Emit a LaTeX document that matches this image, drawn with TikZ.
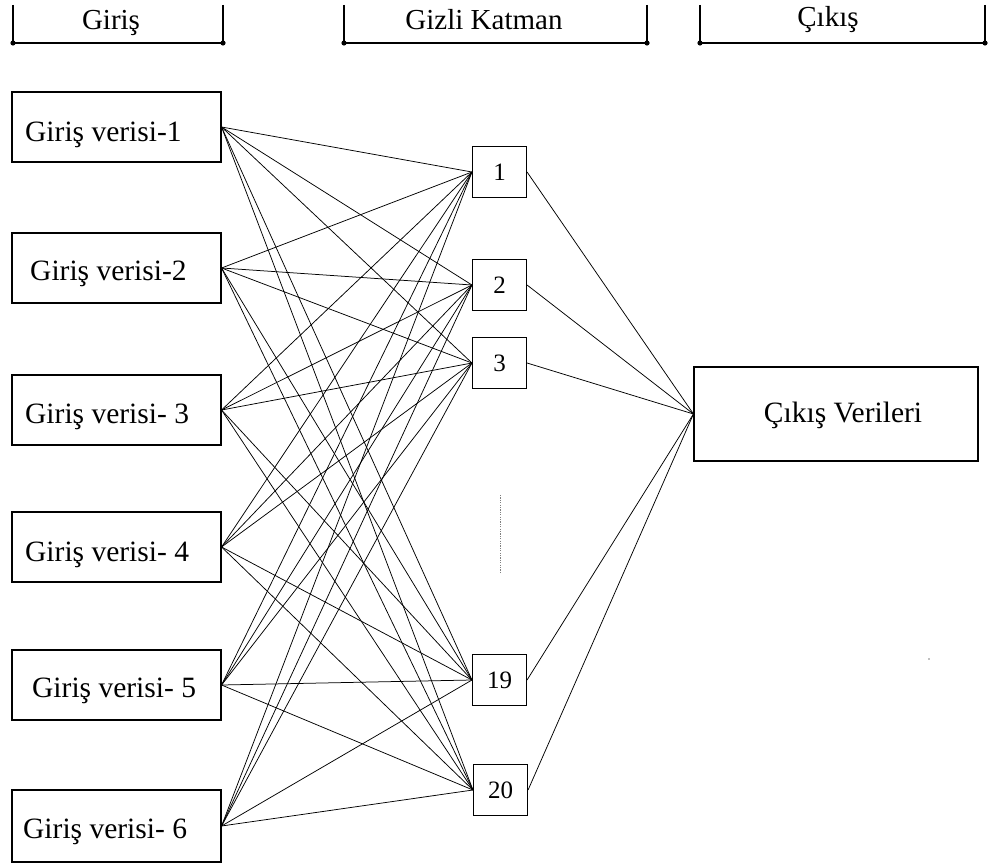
\documentclass[tikz,border=0pt]{standalone}
\usepackage{fontspec}
\setmainfont{Liberation Serif}
\begin{document}
\begin{tikzpicture}[x=1pt,y=-1pt,
  inbox/.style={draw,line width=1.1pt,minimum width=209pt,minimum height=70pt,inner sep=0pt},
  intext/.style={anchor=base west,inner sep=0pt,font=\fontsize{29.5}{34}\selectfont},
  hbox/.style={draw,line width=1.1pt,minimum width=54pt,minimum height=51pt,inner sep=0pt,font=\fontsize{25}{28}\selectfont},
  obox/.style={draw,line width=1.1pt,minimum width=284pt,minimum height=94pt,inner sep=0pt},
  otext/.style={anchor=base,inner sep=0pt,font=\fontsize{29.5}{34}\selectfont},
  conn/.style={line width=0.75pt},
  hdr/.style={line width=1.1pt},
  hdrbar/.style={line width=1.6pt},
  hdrdot/.style={fill=black},
  hdrtext/.style={anchor=base,inner sep=0pt,font=\fontsize{29}{32}\selectfont},
  dotline/.style={gray,line width=0.9pt,dash pattern=on 1.2pt off 1.2pt}]
\useasboundingbox (0,0) rectangle (1000,866);

% header brackets
\foreach \n/\xa/\xb in {a/13/223,b/344/647,c/700/985}{
  \coordinate (\n top1) at (\xa,5);
  \coordinate (\n bot1) at (\xa,43);
  \coordinate (\n top2) at (\xb,5);
  \coordinate (\n bot2) at (\xb,43);
  \draw[hdr] (\n top1) -- (\n bot1);
  \draw[hdr] (\n top2) -- (\n bot2);
  \draw[hdrbar] (\n bot1) -- (\n bot2);
  \fill[hdrdot] (\n bot1) circle (2.6);
  \fill[hdrdot] (\n bot2) circle (2.6);
}
\node[hdrtext] (hGiris) at (111,30) {Giriş};
\node[hdrtext] (hGizli) at (484,30) {Gizli Katman};
\node[hdrtext] (hCikis) at (828,27) {Çıkış};

% input boxes
\node[inbox] (in1) at (116.5,127) {};
\node[inbox] (in2) at (116.5,268) {};
\node[inbox] (in3) at (116.5,410) {};
\node[inbox] (in4) at (116.5,547) {};
\node[inbox] (in5) at (116.5,685) {};
\node[inbox,minimum height=72pt] (in6) at (116.5,826) {};
\node[intext] (t1) at (25,142) {Giriş verisi-1};
\node[intext] (t2) at (30,280) {Giriş verisi-2};
\node[intext] (t3) at (25,423) {Giriş verisi- 3};
\node[intext] (t4) at (25,561) {Giriş verisi- 4};
\node[intext] (t5) at (32,697) {Giriş verisi- 5};
\node[intext] (t6) at (23,838) {Giriş verisi- 6};

% hidden boxes
\node[hbox] (h1) at (499.5,172) {1};
\node[hbox] (h2) at (499.5,285) {2};
\node[hbox] (h3) at (499.5,363) {3};
\node[hbox] (h19) at (499.5,680) {19};
\node[hbox] (h20) at (500.5,790) {20};

% dotted ellipsis
\coordinate (dA) at (500,495);
\coordinate (dB) at (500,573);
\draw[dotline] (dA) -- (dB);

% output box
\node[obox] (out) at (836,414) {};
\node[otext] (ot) at (843,422) {Çıkış Verileri};

% connections
\foreach \i in {1,...,6}{
  \foreach \j in {1,2,3,19,20}{
    \draw[conn] (in\i.east) -- (h\j.west);
  }
}
\foreach \j in {1,2,3,19,20}{
  \draw[conn] (h\j.east) -- (out.west);
}

% stray dot
\fill[gray] (929,659) circle (0.9);
\end{tikzpicture}
\end{document}
